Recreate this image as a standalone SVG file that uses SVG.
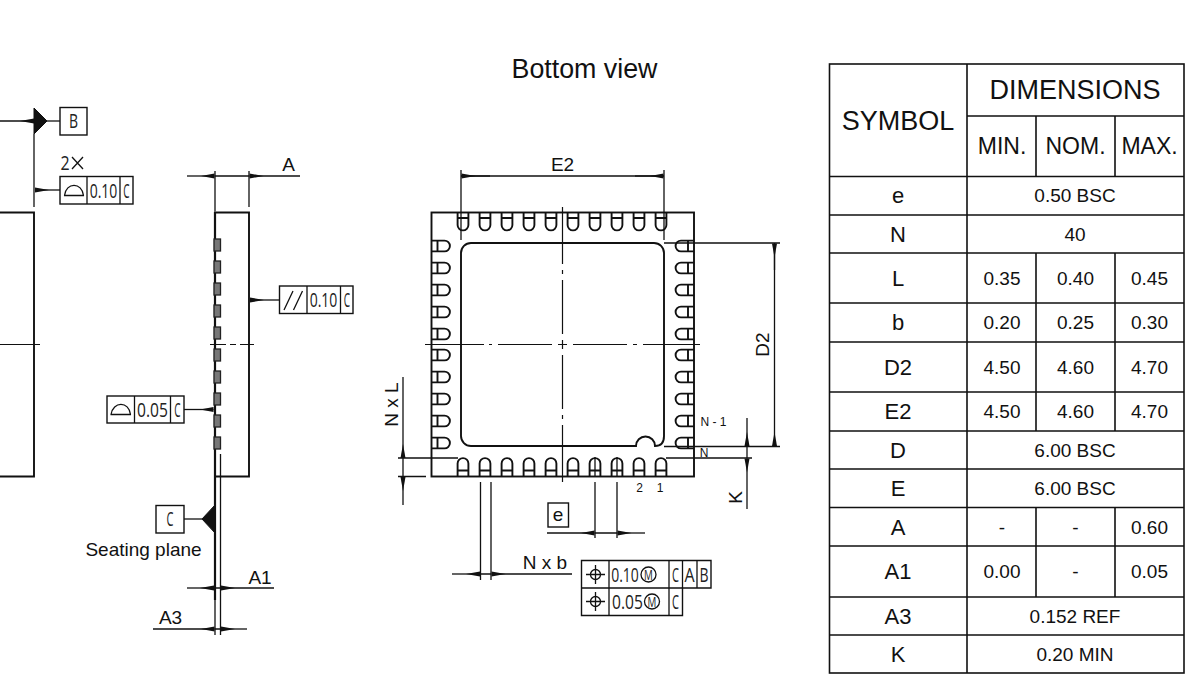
<svg xmlns="http://www.w3.org/2000/svg" xmlns:xlink="http://www.w3.org/1999/xlink" width="1200" height="675" viewBox="0 0 1200 675">
<style>
text{font-family:"Liberation Sans",Arial,sans-serif;fill:#111;text-anchor:middle}
.t19{font-size:19px}.h{font-size:27px}.sub{font-size:23px}.sym{font-size:22px}.val{font-size:19px}.pin{font-size:12px}
.fcf{font-family:"Open Sans","Liberation Sans",sans-serif;font-size:20px;fill:#222}
.fm{font-family:"Open Sans","Liberation Sans",sans-serif;font-size:14px;fill:#222}
path,line,rect,circle,polyline{fill:none;stroke:#111}
.bg{fill:#fff;stroke:none}
.head{fill:#111;stroke:none}
.o{stroke-width:1.9}.th{stroke-width:1.3}.cl{stroke-width:1.2}
.box{stroke-width:1.4;fill:#fff}
.arr{stroke-width:1.3;marker-end:url(#ah)}
.tri{fill:#111;stroke:#111}
.pad{stroke-width:1.9}
.lead{fill:#777;stroke:#222;stroke-width:1.3}
.tb{stroke-width:1.6}
</style>
<defs>
<marker id="ah" markerUnits="userSpaceOnUse" markerWidth="15" markerHeight="7" refX="14" refY="3" orient="auto"><path class="head" d="M0 3L14 0.5V5.500Z"/></marker>
<path id="pad" class="pad" d="M-5.400 0V13A5.400 5.400 0 0 0 5.400 13V0M-5.400 6H5.400"/>
<rect id="lead" class="lead" x="214" y="-6" width="6.500" height="12"/>
</defs>
<rect class="bg" width="1200" height="675"/>

<g id="title"><text x="584.500" y="78" style="font-size:26.800px">Bottom view</text></g>

<g id="left-view">
<path class="o" d="M0 212.500H34V476.500H0"/>
<path class="cl" d="M0 344.500H40"/>
<path class="th" d="M34 134V207"/>
<path class="tri" d="M34 108L47 121L34 134Z"/>
<line class="th" x1="47" y1="121" x2="60" y2="121"/>
<line class="arr" x1="0" y1="121" x2="34" y2="121"/>
<rect class="box" x="60" y="107.500" width="27" height="27.500"/>
<text class="fcf" transform="translate(73.500,128) scale(.7,1)">B</text>
<text class="fcf" transform="translate(65,170) scale(.8,1)">2</text>
<path class="th" d="M72 157L83 169M83 157L72 169"/>
<rect class="box" x="60" y="176.500" width="73" height="27.500"/>
<path class="th" d="M87 176.500V204M120 176.500V204"/>
<path class="th" d="M64 195.500H84M64.500 195.500C66 182 82 182 83.500 195.500"/>
<text class="fcf" transform="translate(103.500,197.500) scale(.7,1)">0.10</text>
<text class="fcf" transform="translate(126.500,197.500) scale(.5,1)">C</text>
<line class="arr" x1="60" y1="190" x2="35" y2="190"/>
</g>

<g id="side-view">
<path class="o" d="M216 212.500H249V476.500H216"/>
<path class="o" d="M215 212V600" style="stroke-width:2.200"/>
<path class="th" d="M215 171V212M249 171V207M215 600V635M220.500 454V635"/>
<use xlink:href="#lead" href="#lead" y="245"/>
<use xlink:href="#lead" href="#lead" y="267"/>
<use xlink:href="#lead" href="#lead" y="289"/>
<use xlink:href="#lead" href="#lead" y="311"/>
<use xlink:href="#lead" href="#lead" y="333"/>
<use xlink:href="#lead" href="#lead" y="355"/>
<use xlink:href="#lead" href="#lead" y="377"/>
<use xlink:href="#lead" href="#lead" y="399"/>
<use xlink:href="#lead" href="#lead" y="421"/>
<use xlink:href="#lead" href="#lead" y="443"/>
<path class="cl" d="M210 344.500H226M230 344.500H236M240 344.500H254"/>
<path class="th" d="M215 176H249M215 588H221M215 629H221"/>
<line class="arr" x1="187" y1="176" x2="214.500" y2="176"/>
<line class="arr" x1="300" y1="176" x2="249.500" y2="176"/>
<text class="t19" x="288.500" y="171">A</text>
<rect class="box" x="279.500" y="286" width="73.500" height="27.500"/>
<path class="th" d="M307 286V313.500M340.500 286V313.500"/>
<path class="th" d="M284 310L293 291M293.500 310L302.500 291"/>
<text class="fcf" transform="translate(323.500,307) scale(.7,1)">0.10</text>
<text class="fcf" transform="translate(347,307) scale(.5,1)">C</text>
<line class="arr" x1="279.500" y1="300" x2="250" y2="300"/>
<rect class="box" x="107" y="396" width="77" height="27"/>
<path class="th" d="M134.500 396V423M170.500 396V423"/>
<path class="th" d="M110.500 414.500H131M111 414.500C113 401 129 401 130.500 414.500"/>
<text class="fcf" transform="translate(152.500,416.500) scale(.78,1)">0.05</text>
<text class="fcf" transform="translate(177.500,416.500) scale(.5,1)">C</text>
<line class="arr" x1="184" y1="409.500" x2="213.500" y2="409.500"/>
<path class="tri" d="M215 505L202 519L215 533Z"/>
<line class="th" x1="184" y1="519" x2="202" y2="519"/>
<rect class="box" x="156" y="505.500" width="28" height="27.500"/>
<text class="fcf" transform="translate(170,526) scale(.55,1)">C</text>
<text class="t19" x="143.500" y="556">Seating plane</text>
<line class="arr" x1="187" y1="588" x2="214" y2="588"/>
<line class="arr" x1="274" y1="588" x2="221" y2="588"/>
<text class="t19" x="260" y="584">A1</text>
<line class="arr" x1="153" y1="629" x2="214.500" y2="629"/>
<line class="arr" x1="247" y1="629" x2="221" y2="629"/>
<text class="t19" x="170.500" y="624">A3</text>
</g>

<g id="bottom-view">
<rect class="o" x="431.500" y="212.500" width="262.500" height="264"/>
<path class="o" d="M461 253A10 10 0 0 1 471 243H654A10 10 0 0 1 664 253V436Q664 446 655 446A9.500 9.500 0 0 0 636 446H471A10 10 0 0 1 461 436Z"/>
<path class="cl" d="M425 344.500H484M489 344.500H492M498 344.500H552M558 344.500H567M573 344.500H627M633 344.500H637M643 344.500H700"/>
<path class="cl" d="M562.500 207V264M562.500 270V274M562.500 280V334M562.500 340V349M562.500 355V409M562.500 415V419M562.500 425V482"/>
<g id="pads-top">
<use xlink:href="#pad" href="#pad" transform="translate(463,212)"/><use xlink:href="#pad" href="#pad" transform="translate(485,212)"/><use xlink:href="#pad" href="#pad" transform="translate(507,212)"/><use xlink:href="#pad" href="#pad" transform="translate(529,212)"/><use xlink:href="#pad" href="#pad" transform="translate(551,212)"/><use xlink:href="#pad" href="#pad" transform="translate(573,212)"/><use xlink:href="#pad" href="#pad" transform="translate(595,212)"/><use xlink:href="#pad" href="#pad" transform="translate(617,212)"/><use xlink:href="#pad" href="#pad" transform="translate(639,212)"/><use xlink:href="#pad" href="#pad" transform="translate(661,212)"/>
</g>
<g id="pads-bottom">
<use xlink:href="#pad" href="#pad" transform="translate(463,476.500) rotate(180)"/><use xlink:href="#pad" href="#pad" transform="translate(485,476.500) rotate(180)"/><use xlink:href="#pad" href="#pad" transform="translate(507,476.500) rotate(180)"/><use xlink:href="#pad" href="#pad" transform="translate(529,476.500) rotate(180)"/><use xlink:href="#pad" href="#pad" transform="translate(551,476.500) rotate(180)"/><use xlink:href="#pad" href="#pad" transform="translate(573,476.500) rotate(180)"/><use xlink:href="#pad" href="#pad" transform="translate(595,476.500) rotate(180)"/><use xlink:href="#pad" href="#pad" transform="translate(617,476.500) rotate(180)"/><use xlink:href="#pad" href="#pad" transform="translate(639,476.500) rotate(180)"/><use xlink:href="#pad" href="#pad" transform="translate(661,476.500) rotate(180)"/>
</g>
<g id="pads-left">
<use xlink:href="#pad" href="#pad" transform="translate(431.500,246) rotate(-90)"/><use xlink:href="#pad" href="#pad" transform="translate(431.500,268) rotate(-90)"/><use xlink:href="#pad" href="#pad" transform="translate(431.500,290) rotate(-90)"/><use xlink:href="#pad" href="#pad" transform="translate(431.500,312) rotate(-90)"/><use xlink:href="#pad" href="#pad" transform="translate(431.500,334) rotate(-90)"/><use xlink:href="#pad" href="#pad" transform="translate(431.500,355) rotate(-90)"/><use xlink:href="#pad" href="#pad" transform="translate(431.500,377) rotate(-90)"/><use xlink:href="#pad" href="#pad" transform="translate(431.500,399) rotate(-90)"/><use xlink:href="#pad" href="#pad" transform="translate(431.500,421) rotate(-90)"/><use xlink:href="#pad" href="#pad" transform="translate(431.500,443) rotate(-90)"/>
</g>
<g id="pads-right">
<use xlink:href="#pad" href="#pad" transform="translate(694,246) rotate(90)"/><use xlink:href="#pad" href="#pad" transform="translate(694,268) rotate(90)"/><use xlink:href="#pad" href="#pad" transform="translate(694,290) rotate(90)"/><use xlink:href="#pad" href="#pad" transform="translate(694,312) rotate(90)"/><use xlink:href="#pad" href="#pad" transform="translate(694,334) rotate(90)"/><use xlink:href="#pad" href="#pad" transform="translate(694,355) rotate(90)"/><use xlink:href="#pad" href="#pad" transform="translate(694,377) rotate(90)"/><use xlink:href="#pad" href="#pad" transform="translate(694,399) rotate(90)"/><use xlink:href="#pad" href="#pad" transform="translate(694,421) rotate(90)"/><use xlink:href="#pad" href="#pad" transform="translate(694,443) rotate(90)"/>
</g>
<text class="pin" x="713.500" y="426" xml:space="preserve">N - 1</text>
<text class="pin" x="704" y="457">N</text>
<text class="pin" x="639.500" y="492">2</text>
<text class="pin" x="660" y="492">1</text>
</g>

<g id="connectors">
<path class="th" d="M461 170V240M664 170V240"/>
<line class="th" x1="461" y1="176" x2="664" y2="176"/>
<line class="arr" x1="490" y1="176" x2="461.500" y2="176"/>
<line class="arr" x1="635" y1="176" x2="663.500" y2="176"/>
<path class="th" d="M664 243H780M664 446.500H780M666 458H752"/>
<line class="th" x1="774.500" y1="243" x2="774.500" y2="420"/>
<line class="arr" x1="774.500" y1="270" x2="774.500" y2="243.500"/>
<line class="arr" x1="774.500" y1="420" x2="774.500" y2="446"/>
<line class="th" x1="747" y1="446" x2="747" y2="458"/>
<line class="arr" x1="747" y1="418" x2="747" y2="446"/>
<line class="arr" x1="747" y1="509" x2="747" y2="458.500"/>
<path class="th" d="M398 458H458M398 476.500H426M403 458V477"/>
<line class="arr" x1="403" y1="377" x2="403" y2="458"/>
<line class="arr" x1="403" y1="505" x2="403" y2="477"/>
<path class="th" d="M480.500 482V580M491 482V580M595 457V476M617 457V476M595 482V538M617 482V538M480 574H491M595 533H617"/>
<line class="arr" x1="452" y1="574" x2="480" y2="574"/>
<line class="arr" x1="572" y1="574" x2="491.500" y2="574"/>
<line class="arr" x1="547" y1="533" x2="594.500" y2="533"/>
<line class="arr" x1="645" y1="533" x2="617.500" y2="533"/>
</g>

<g id="dim-labels">
<text class="t19" x="562.500" y="171">E2</text>
<text class="t19" transform="translate(769,344.500) rotate(-90)">D2</text>
<text class="t19" transform="translate(742,497.500) rotate(-90)">K</text>
<text class="t19" transform="translate(398,404.500) rotate(-90)">N x L</text>
<text class="t19" x="545" y="569">N x b</text>
<rect class="box" x="548" y="503" width="20.500" height="24"/>
<text class="t19" x="558" y="521">e</text>
</g>

<g id="fcf-position">
<path class="box" d="M581.500 560.500H711V588H682.500V615.500H581.500Z"/>
<path class="th" d="M581.500 588H682.500M609 560.500V615.500M669 560.500V615.500M682.500 560.500V588M697 560.500V588"/>
<circle class="th" cx="595.500" cy="574.500" r="5"/>
<path class="th" d="M586 574.500H605M595.500 565V584"/>
<circle class="th" cx="595.500" cy="601.500" r="5"/>
<path class="th" d="M586 601.500H605M595.500 592V611"/>
<text class="fcf" transform="translate(625,581.500) scale(.7,1)">0.10</text>
<circle class="th" cx="648.500" cy="574.500" r="7.500"/>
<text class="fm" transform="translate(648.500,579.500) scale(.7,1)">M</text>
<text class="fcf" transform="translate(675.500,581.500) scale(.55,1)">C</text>
<text class="fcf" transform="translate(689.500,581.500) scale(.8,1)">A</text>
<text class="fcf" transform="translate(704,581.500) scale(.7,1)">B</text>
<text class="fcf" transform="translate(627.500,608.500) scale(.78,1)">0.05</text>
<circle class="th" cx="652" cy="601.500" r="7.500"/>
<text class="fm" transform="translate(652,606.500) scale(.7,1)">M</text>
<text class="fcf" transform="translate(675.500,608.500) scale(.55,1)">C</text>
</g>

<g id="table">
<rect class="tb" x="829.500" y="64" width="354.500" height="609"/>
<path class="tb" d="M967 64V673M967 116H1184M829.500 176.500H1184M829.500 215H1184M829.500 253H1184M829.500 303H1184M829.500 342H1184M829.500 392H1184M829.500 431H1184M829.500 469H1184M829.500 507.500H1184M829.500 546H1184M829.500 597H1184M829.500 635H1184"/>
<path class="tb" d="M1036 116V176.500M1115 116V176.500M1036 253V431M1115 253V431M1036 507.500V597M1115 507.500V597"/>
<text class="h" x="898" y="130">SYMBOL</text>
<text class="h" x="1075" y="99">DIMENSIONS</text>
<text class="sub" x="1002" y="154">MIN.</text>
<text class="sub" x="1075.500" y="154">NOM.</text>
<text class="sub" x="1149.500" y="154">MAX.</text>
<g class="sym">
<text x="898" y="203">e</text><text x="898" y="242">N</text><text x="898" y="286">L</text><text x="898" y="330">b</text><text x="898" y="375">D2</text><text x="898" y="419">E2</text><text x="898" y="458">D</text><text x="898" y="496">E</text><text x="898" y="535">A</text><text x="898" y="579">A1</text><text x="898" y="624">A3</text><text x="898" y="662">K</text>
</g>
<g class="val">
<text x="1075" y="202">0.50 BSC</text><text x="1075" y="241">40</text>
<text x="1002" y="285">0.35</text><text x="1075.500" y="285">0.40</text><text x="1149.500" y="285">0.45</text>
<text x="1002" y="329">0.20</text><text x="1075.500" y="329">0.25</text><text x="1149.500" y="329">0.30</text>
<text x="1002" y="374">4.50</text><text x="1075.500" y="374">4.60</text><text x="1149.500" y="374">4.70</text>
<text x="1002" y="418">4.50</text><text x="1075.500" y="418">4.60</text><text x="1149.500" y="418">4.70</text>
<text x="1075" y="457">6.00 BSC</text><text x="1075" y="495">6.00 BSC</text>
<text x="1002" y="534">-</text><text x="1075.500" y="534">-</text><text x="1149.500" y="534">0.60</text>
<text x="1002" y="578">0.00</text><text x="1075.500" y="578">-</text><text x="1149.500" y="578">0.05</text>
<text x="1075" y="623">0.152 REF</text><text x="1075" y="661">0.20 MIN</text>
</g>
</g>
</svg>
